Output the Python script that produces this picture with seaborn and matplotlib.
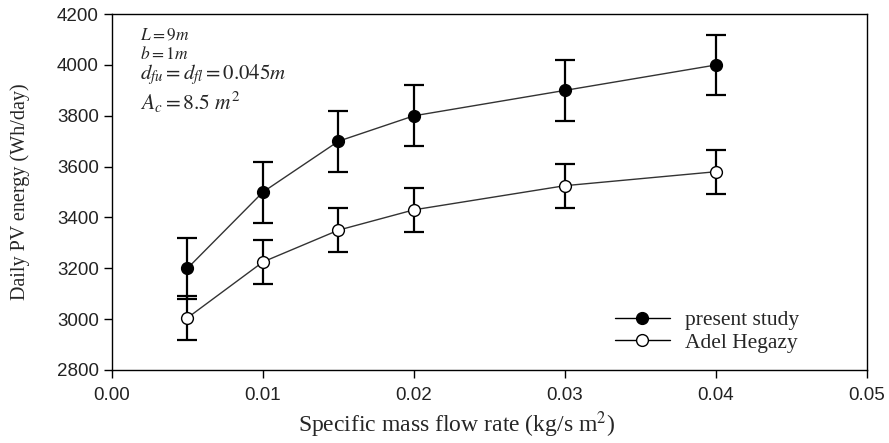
import matplotlib
matplotlib.use("Agg")
import matplotlib.pyplot as plt
import seaborn as sns
import pandas as pd
from matplotlib.lines import Line2D

# Specific mass flow rate (kg/s m^2)
flow_rate = [0.005, 0.01, 0.015, 0.02, 0.03, 0.04]

# Daily PV energy (Wh/day)
present_study = [3200, 3500, 3700, 3800, 3900, 4000]
present_err = [120, 120, 120, 120, 120, 120]

adel_hegazy = [3005, 3225, 3350, 3430, 3525, 3580]
adel_err = [87, 87, 86, 86, 86, 87]

series_names = ["present study", "Adel Hegazy"]

x_ticks = [0.00, 0.01, 0.02, 0.03, 0.04, 0.05]
y_ticks = [2800, 3000, 3200, 3400, 3600, 3800, 4000, 4200]

df = pd.DataFrame({
    "flow": flow_rate * 2,
    "energy": present_study + adel_hegazy,
    "err": present_err + adel_err,
    "series": [series_names[0]] * len(flow_rate) + [series_names[1]] * len(flow_rate),
})

sns.set_style("ticks")
plt.rcParams["font.family"] = ["Liberation Sans", "DejaVu Sans"]
plt.rcParams["mathtext.fontset"] = "stix"

fig = plt.figure(figsize=(8.89, 4.43), dpi=100)
ax = fig.add_axes([0.126, 0.165, 0.849, 0.803])

face = {series_names[0]: "black", series_names[1]: "white"}

for name in series_names:
    sub = df[df["series"] == name]
    ax.errorbar(sub["flow"], sub["energy"], yerr=sub["err"], fmt="none",
                ecolor="black", elinewidth=1.6, capsize=7, capthick=1.6, zorder=2)
    sns.lineplot(data=sub, x="flow", y="energy", ax=ax, color="#333333",
                 linewidth=1.0, marker="o", markersize=8.5,
                 markerfacecolor=face[name], markeredgecolor="black",
                 markeredgewidth=1.0, zorder=3, legend=False)

ax.set_xlim(0.0, 0.05)
ax.set_ylim(2800, 4200)
ax.set_xticks(x_ticks)
ax.set_xticklabels([f"{v:.2f}" for v in x_ticks])
ax.set_yticks(y_ticks)
ax.tick_params(axis="both", direction="out", length=6, width=1.0,
               labelsize=13.5, color="black", labelcolor="#222222")
ax.tick_params(axis="x", pad=6)
for side in ["top", "right", "left", "bottom"]:
    ax.spines[side].set_visible(True)
    ax.spines[side].set_linewidth(1.0)
    ax.spines[side].set_color("black")

serif = ["Liberation Serif", "DejaVu Serif"]
ax.set_xlabel("Specific mass flow rate (kg/s m$^{2}$)", family=serif,
              fontsize=17)
ax.xaxis.set_label_coords(0.456, -0.112)
ax.set_ylabel("Daily PV energy (Wh/day)", family=serif, fontsize=14.5)
ax.yaxis.set_label_coords(-0.109, 0.5)

# Design parameters
ax.text(0.037, 0.941, r"$L = 9m$", transform=ax.transAxes, fontsize=12.5,
        va="center", ha="left")
ax.text(0.037, 0.890, r"$b = 1m$", transform=ax.transAxes, fontsize=12.5,
        va="center", ha="left")
ax.text(0.037, 0.830, r"$d_{fu} = d_{fl} = \mathrm{0.045}m$", transform=ax.transAxes,
        fontsize=15, va="center", ha="left")
ax.text(0.037, 0.752, r"$A_{c} = \mathrm{8.5}\ m^{2}$", transform=ax.transAxes,
        fontsize=15.5, va="center", ha="left")

handles = [
    Line2D([], [], color="black", linewidth=1.0, marker="o", markersize=8.5,
           markerfacecolor=face[n], markeredgecolor="black")
    for n in series_names
]
ax.legend(handles, series_names, loc="center left",
          bbox_to_anchor=(0.666, 0.108), frameon=False, handlelength=2.55,
          handletextpad=0.72, labelspacing=0.1, borderpad=0, borderaxespad=0,
          prop={"family": serif, "size": 15.5})

fig.savefig("out.png", dpi=100)
